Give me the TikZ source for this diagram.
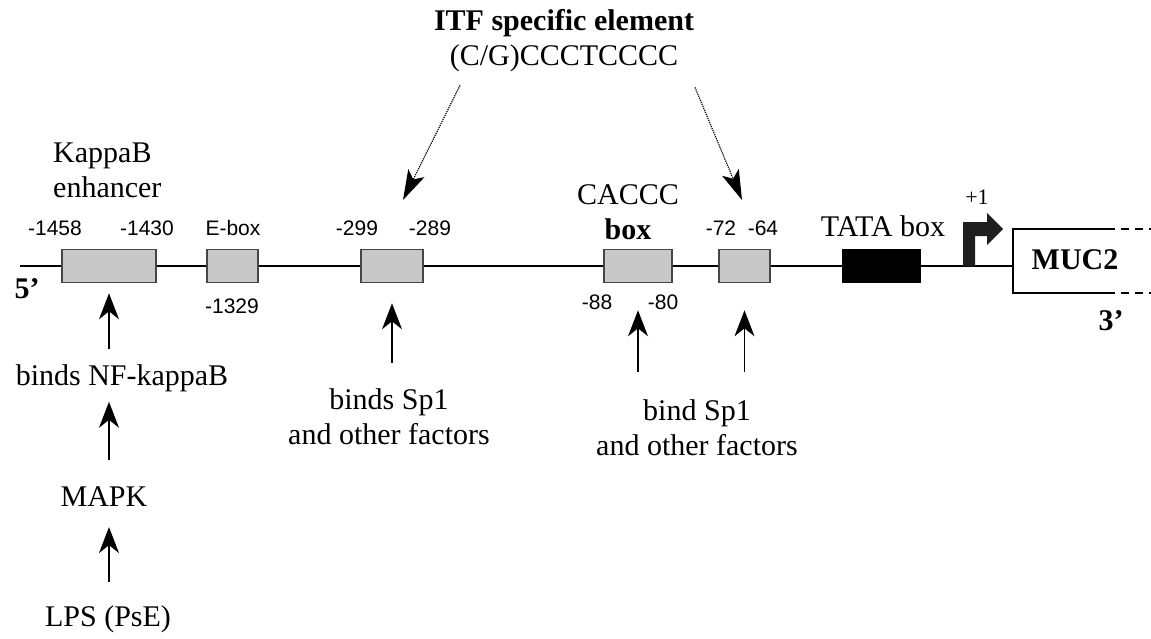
\documentclass[tikz,border=0pt]{standalone}
\usepackage{fontspec}
\setmainfont{Liberation Serif}
\newfontfamily\numfont{Liberation Sans}
\usepackage{xcolor}
\usepackage{tikz}
\usetikzlibrary{arrows.meta, positioning}
\definecolor{boxgray}{RGB}{200,200,200}
\definecolor{edgegray}{RGB}{70,70,70}
\tikzstyle{gbox} = [rectangle, draw=edgegray, line width=1.6pt, fill=boxgray, minimum height=33pt, inner sep=0pt]
\tikzstyle{tatabox} = [rectangle, draw=black, fill=black, minimum width=78pt, minimum height=33pt, inner sep=0pt]
\tikzstyle{lbl} = [inner sep=0pt, align=center, font={\fontsize{30}{35}\selectfont}]
\tikzstyle{num} = [inner sep=0pt, font={\numfont\fontsize{21}{24}\selectfont}]
\tikzstyle{dna} = [line width=1.6pt]
\tikzstyle{uparrow} = [line width=1.4pt, -{Stealth[length=26pt, width=20pt, inset=8pt]}]
\tikzstyle{itfarrow} = [line width=1.2pt, densely dotted, -{Stealth[length=30pt, width=18pt, inset=7pt]}]

\begin{document}
\begin{tikzpicture}[x=1pt, y=-1pt]
    \useasboundingbox (0,0) rectangle (1151,638);

    % promoter elements
    \node (kb) [gbox, minimum width=94pt] at (109,266) {};
    \node (ebox) [gbox, minimum width=51pt] at (232.5,266) {};
    \node (sp1) [gbox, minimum width=62pt] at (392,266) {};
    \node (caccc) [gbox, minimum width=68pt] at (638,266) {};
    \node (sp2) [gbox, minimum width=51pt] at (744.5,266) {};
    \node (tata) [tatabox] at (881,266) {};
    \coordinate (start) at (20,266);
    \coordinate (muctl) at (1013,229);
    \coordinate (mucbl) at (1013,293);

    \draw [dna] (start) -- (kb.west);
    \draw [dna] (kb.east) -- (ebox.west);
    \draw [dna] (ebox.east) -- (sp1.west);
    \draw [dna] (sp1.east) -- (caccc.west);
    \draw [dna] (caccc.east) -- (sp2.west);
    \draw [dna] (sp2.east) -- (tata.west);
    \draw [dna] (tata.east) -- (tata.east -| muctl);

    % MUC2 gene
    \draw [dna] (1107,229) -- (muctl) -- (mucbl) -- (1107,293);
    \draw [dna, dash pattern=on 8pt off 6pt] (1107,229) -- (1151,229);
    \draw [dna, dash pattern=on 8pt off 6pt] (1107,293) -- (1151,293);
    \fill [black!88] (963,266) -- (963,222) -- (987,222) -- (987,213) -- (1003,229)
        -- (987,245) -- (987,236) -- (975,236) -- (975,266) -- cycle;

    % labels
    \node (itf) [lbl] at (564,41) {\textbf{ITF specific element}\\(C/G)CCCTCCCC};
    \node (kappa) [lbl, align=left, anchor=west] at (53,170) {KappaB\\enhancer};
    \node (cacccl) [lbl] at (628,212) {CACCC\\\textbf{box}};
    \node (tatal) [lbl] at (883,226) {TATA box};
    \node (muc) [lbl] at (1075,260) {\textbf{MUC2}};
    \node (five) [lbl] at (27,289) {\textbf{5'}};
    \node (three) [lbl] at (1111,321) {\textbf{3'}};
    \node (plus) [lbl, font={\fontsize{22}{26}\selectfont}] at (977,197) {+1};

    \node (n1) [num] at (55,228) {-1458};
    \node (n2) [num] at (147,228) {-1430};
    \node (n3) [num] at (233,228) {E-box};
    \node (n4) [num] at (232,306) {-1329};
    \node (n5) [num] at (357,228) {-299};
    \node (n6) [num] at (430,228) {-289};
    \node (n7) [num] at (597,302) {-88};
    \node (n8) [num] at (663,302) {-80};
    \node (n9) [num] at (742,228) {-72\ \ -64};

    \node (nfkb) [lbl] at (122,378) {binds NF-kappaB};
    \node (mapk) [lbl] at (104,497) {MAPK};
    \node (lps) [lbl] at (108,619) {LPS (PsE)};
    \node (bindl) [lbl] at (389,417) {binds Sp1\\and other factors};
    \node (bindr) [lbl] at (697,428) {bind Sp1\\and other factors};

    % arrows
    \coordinate (itfl) at (403,200);
    \coordinate (itfr) at (742,200);
    \draw [itfarrow] ([xshift=-104pt, yshift=-13pt]itf.south) -- (itfl);
    \draw [itfarrow] ([xshift=131pt, yshift=-15pt]itf.south) -- (itfr);

    \draw [uparrow, shorten <=15pt, shorten >=10pt] (nfkb.north -| kb) -- (kb.south);
    \draw [uparrow, shorten <=27pt, shorten >=10pt] (mapk.north -| kb) -- (nfkb.south -| kb);
    \draw [uparrow, shorten <=23pt, shorten >=20pt] (lps.north -| kb) -- (mapk.south -| kb);
    \draw [uparrow, shorten <=26pt, shorten >=20pt] (bindl.north -| sp1) -- (sp1.south);
    \draw [uparrow, shorten <=28pt, shorten >=27pt] (bindr.north -| caccc) -- (caccc.south);
    \draw [uparrow, shorten <=28pt, shorten >=27pt] (bindr.north -| sp2) -- (sp2.south);
\end{tikzpicture}
\end{document}
